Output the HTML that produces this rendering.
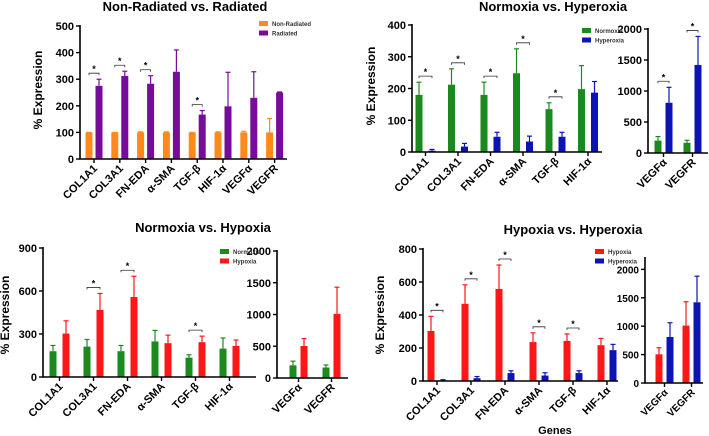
<!DOCTYPE html>
<html><head><meta charset="utf-8"><style>
html,body{margin:0;padding:0;background:#fff;}
svg{display:block;font-family:"Liberation Sans",Arial,sans-serif;}
text{font-weight:bold;}
</style></head><body>
<svg id="fig" width="709" height="436" viewBox="0 0 709 436"></svg>
<script>
const genes6=["COL1A1","COL3A1","FN-EDA","α-SMA","TGF-β","HIF-1α"];
const genes8=["COL1A1","COL3A1","FN-EDA","α-SMA","TGF-β","HIF-1α","VEGFα","VEGFR"];
const vegfGenes=["VEGFα","VEGFR"];
// Panel A
const nonRadVals=[100,100,100,100,100,100,100,100];
const nonRadErr=[100,100,102,102,100,102,104,152];
const radVals=[275,312,283,328,167,198,230,250];
const radErr=[300,330,313,410,182,326,328,252];
const sigA=[0,1,2,4];
// Normoxia
const normVals=[180,212,180,248,135,198];
const normErr=[220,262,220,325,155,272];
const normVegf=[200,165];
const normVegfErr=[265,205];
// Hyperoxia
const hyperVals=[4,17,48,33,48,187];
const hyperErr=[8,27,62,50,62,222];
const hyperVegf=[810,1420];
const hyperVegfErr=[1060,1880];
// Hypoxia
const hypoVals=[303,468,558,236,243,217];
const hypoErr=[392,583,703,292,285,258];
const hypoVegf=[505,1010];
const hypoVegfErr=[620,1430];
const sigB=[0,1,2,3,4]; const sigBv=[0,1];
const sigC=[1,2,4];
const sigD=[0,1,2,3,4];
const ticksA=[0,100,200,300,400,500], ticksB=[0,100,200,300,400], ticksC=[0,300,600,900], ticksD=[0,200,400,600,800], ticksV=[0,500,1000,1500,2000];

const NS="http://www.w3.org/2000/svg";
const svg=document.getElementById('fig');
function mk(tag,attrs,parent,txt){const e=document.createElementNS(NS,tag);for(const k in attrs)e.setAttribute(k,attrs[k]);if(txt!==undefined)e.textContent=txt;(parent||svg).appendChild(e);return e;}

function panel(o){
  const g=mk('g',{});
  
  
  const y=v=>o.y0-(v/o.ymax)*(o.y0-o.ytop);
  const xc=(i,s)=>o.x0+o.first+i*o.step+(s?o.off:0);
  // bars
  o.series.forEach((s,si)=>{
    s.vals.forEach((v,i)=>{
      const cx=xc(i,si);
      const eb=mk('line',{x1:cx,x2:cx,y1:y(v),y2:y(s.err[i]),stroke:s.color,'stroke-width':1.2},g);
      
      
      const cap=mk('line',{x1:cx-2.5,x2:cx+2.5,y1:y(s.err[i]),y2:y(s.err[i]),stroke:s.color,'stroke-width':1.2},g);
      
      
      const r=mk('rect',{x:cx-o.bw/2,y:y(v),width:o.bw,height:o.y0-y(v),fill:s.color},g);
      
      
    });
  });
  // significance
  (o.sig||[]).forEach(i=>{
    const top=Math.min(y(o.series[0].err[i]),y(o.series[1].err[i]))-6;
    const a=xc(i,0),b=xc(i,1);
    const p=mk('path',{d:`M${a} ${top+2}V${top}H${b}V${top+2}`,fill:'none',stroke:'#333','stroke-width':0.8},g);
    
    
    const st=mk('text',{x:(a+b)/2,y:top-1,'text-anchor':'middle','font-size':9},g,'*');
    
    
  });
  // axes
  const ax=mk('path',{d:`M${o.x0} ${o.ytop-1}V${o.y0}H${o.xend}`,fill:'none',stroke:'#000','stroke-width':1.6},g);
  
  
  o.ticks.forEach(t=>{
    mk('line',{x1:o.x0-4,x2:o.x0,y1:y(t),y2:y(t),stroke:'#000','stroke-width':1.4},g);
    const tl=mk('text',{x:o.x0-6,y:y(t)+4,'text-anchor':'end','font-size':o.fs||11},g,t);
    
    
  });
  o.cats.forEach((c,i)=>{
    const cx=(xc(i,0)+xc(i,1))/2;
    mk('line',{x1:cx,x2:cx,y1:o.y0,y2:o.y0+4,stroke:'#000','stroke-width':1.4},g);
    const tx=cx+4,ty=o.y0+10;
    const tl=mk('text',{x:tx,y:ty,'text-anchor':'end','font-size':o.fs||11,transform:`rotate(-45 ${tx} ${ty})`},g,c);
    
    
  });
  return g;
}
function txt(x,y,s,fs,name,extra){const t=mk('text',Object.assign({x:x,y:y,'font-size':fs,'text-anchor':'middle'},extra||{}),svg,s);return t;}
function legend(x,y,items){items.forEach((it,i)=>{const r=mk('rect',{x:x,y:y+i*9.5-4,width:9,height:5,fill:it[1]});const t=mk('text',{x:x+13,y:y+i*9.5+1,'font-size':6,'font-weight':'normal',fill:'#333'},svg,it[0]);});}

const OR='#ff8a1c',PU='#780c9a',GR='#1a8a1e',BL='#0c14b4',RD='#ff1616';

// Panel A
panel({name:'panel-nonrad-vs-rad',x0:80,y0:159,ytop:26,ymax:500,xend:287,first:9,step:25.8,off:10,bw:7,ticks:ticksA,cats:genes8,sig:sigA,
  series:[{key:'nonrad',vals:nonRadVals,err:nonRadErr,color:OR},{key:'rad',vals:radVals,err:radErr,color:PU}]});
txt(185,11,'Non-Radiated vs. Radiated',13,'title-a');
txt(42,90,'% Expression',12,'y-axis-title-a',{transform:'rotate(-90 42 90)'});
legend(259,25,[['Non-Radiated',OR],['Radiated',PU]]);

// Panel B
panel({name:'panel-norm-vs-hyper',x0:412,y0:152,ytop:25,ymax:400,xend:602,first:7,step:32.5,off:13,bw:7,ticks:ticksB,cats:genes6,sig:sigB,
  series:[{key:'normoxia',vals:normVals,err:normErr,color:GR},{key:'hyperoxia',vals:hyperVals,err:hyperErr,color:BL}]});
panel({name:'panel-norm-vs-hyper-vegf',x0:648,y0:153,ytop:29,ymax:2000,xend:708,first:10,step:29,off:11,bw:7,ticks:ticksV,cats:vegfGenes,sig:sigBv,
  series:[{key:'normoxia',vals:normVegf,err:normVegfErr,color:GR},{key:'hyperoxia',vals:hyperVegf,err:hyperVegfErr,color:BL}]});
txt(553,11,'Normoxia vs. Hyperoxia',13,'title-b');
txt(375,86,'% Expression',12,'y-axis-title-b',{transform:'rotate(-90 375 86)'});
legend(582,32,[['Normoxia',GR],['Hyperoxia',BL]]);

// Panel C
panel({name:'panel-norm-vs-hypo',x0:43,y0:377,ytop:248,ymax:900,xend:256,first:10,step:34,off:13,bw:7,ticks:ticksC,cats:genes6,sig:sigC,
  series:[{key:'normoxia',vals:normVals,err:normErr,color:GR},{key:'hypoxia',vals:hypoVals,err:hypoErr,color:RD}]});
panel({name:'panel-norm-vs-hypo-vegf',x0:277,y0:378,ytop:251,ymax:2000,xend:348,first:16,step:33,off:11,bw:7,ticks:ticksV,cats:vegfGenes,
  series:[{key:'normoxia',vals:normVegf,err:normVegfErr,color:GR},{key:'hypoxia',vals:hypoVegf,err:hypoVegfErr,color:RD}]});
txt(203,232,'Normoxia vs. Hypoxia',13,'title-c');
txt(9,315,'% Expression',12,'y-axis-title-c',{transform:'rotate(-90 9 315)'});
legend(220,253,[['Normoxia',GR],['Hypoxia',RD]]);

// Panel D
panel({name:'panel-hypo-vs-hyper',x0:423,y0:381,ytop:249,ymax:800,xend:618,first:8,step:34,off:12,bw:7,ticks:ticksD,cats:genes6,sig:sigD,
  series:[{key:'hypoxia',vals:hypoVals,err:hypoErr,color:RD},{key:'hyperoxia',vals:hyperVals,err:hyperErr,color:BL}]});
panel({name:'panel-hypo-vs-hyper-vegf',x0:645,y0:383,ytop:258,ymax:2200,xend:703,first:14,step:27,off:11,bw:7,ticks:ticksV,cats:vegfGenes,fs:10,
  series:[{key:'hypoxia',vals:hypoVegf,err:hypoVegfErr,color:RD},{key:'hyperoxia',vals:hyperVegf,err:hyperVegfErr,color:BL}]});
txt(573,234,'Hypoxia vs. Hyperoxia',13,'title-d');
txt(384,315,'% Expression',12,'y-axis-title-d',{transform:'rotate(-90 384 315)'});
txt(555,434,'Genes',11,'x-axis-title-d');
legend(595,253,[['Hypoxia',RD],['Hyperoxia',BL]]);
</script>
</body></html>
